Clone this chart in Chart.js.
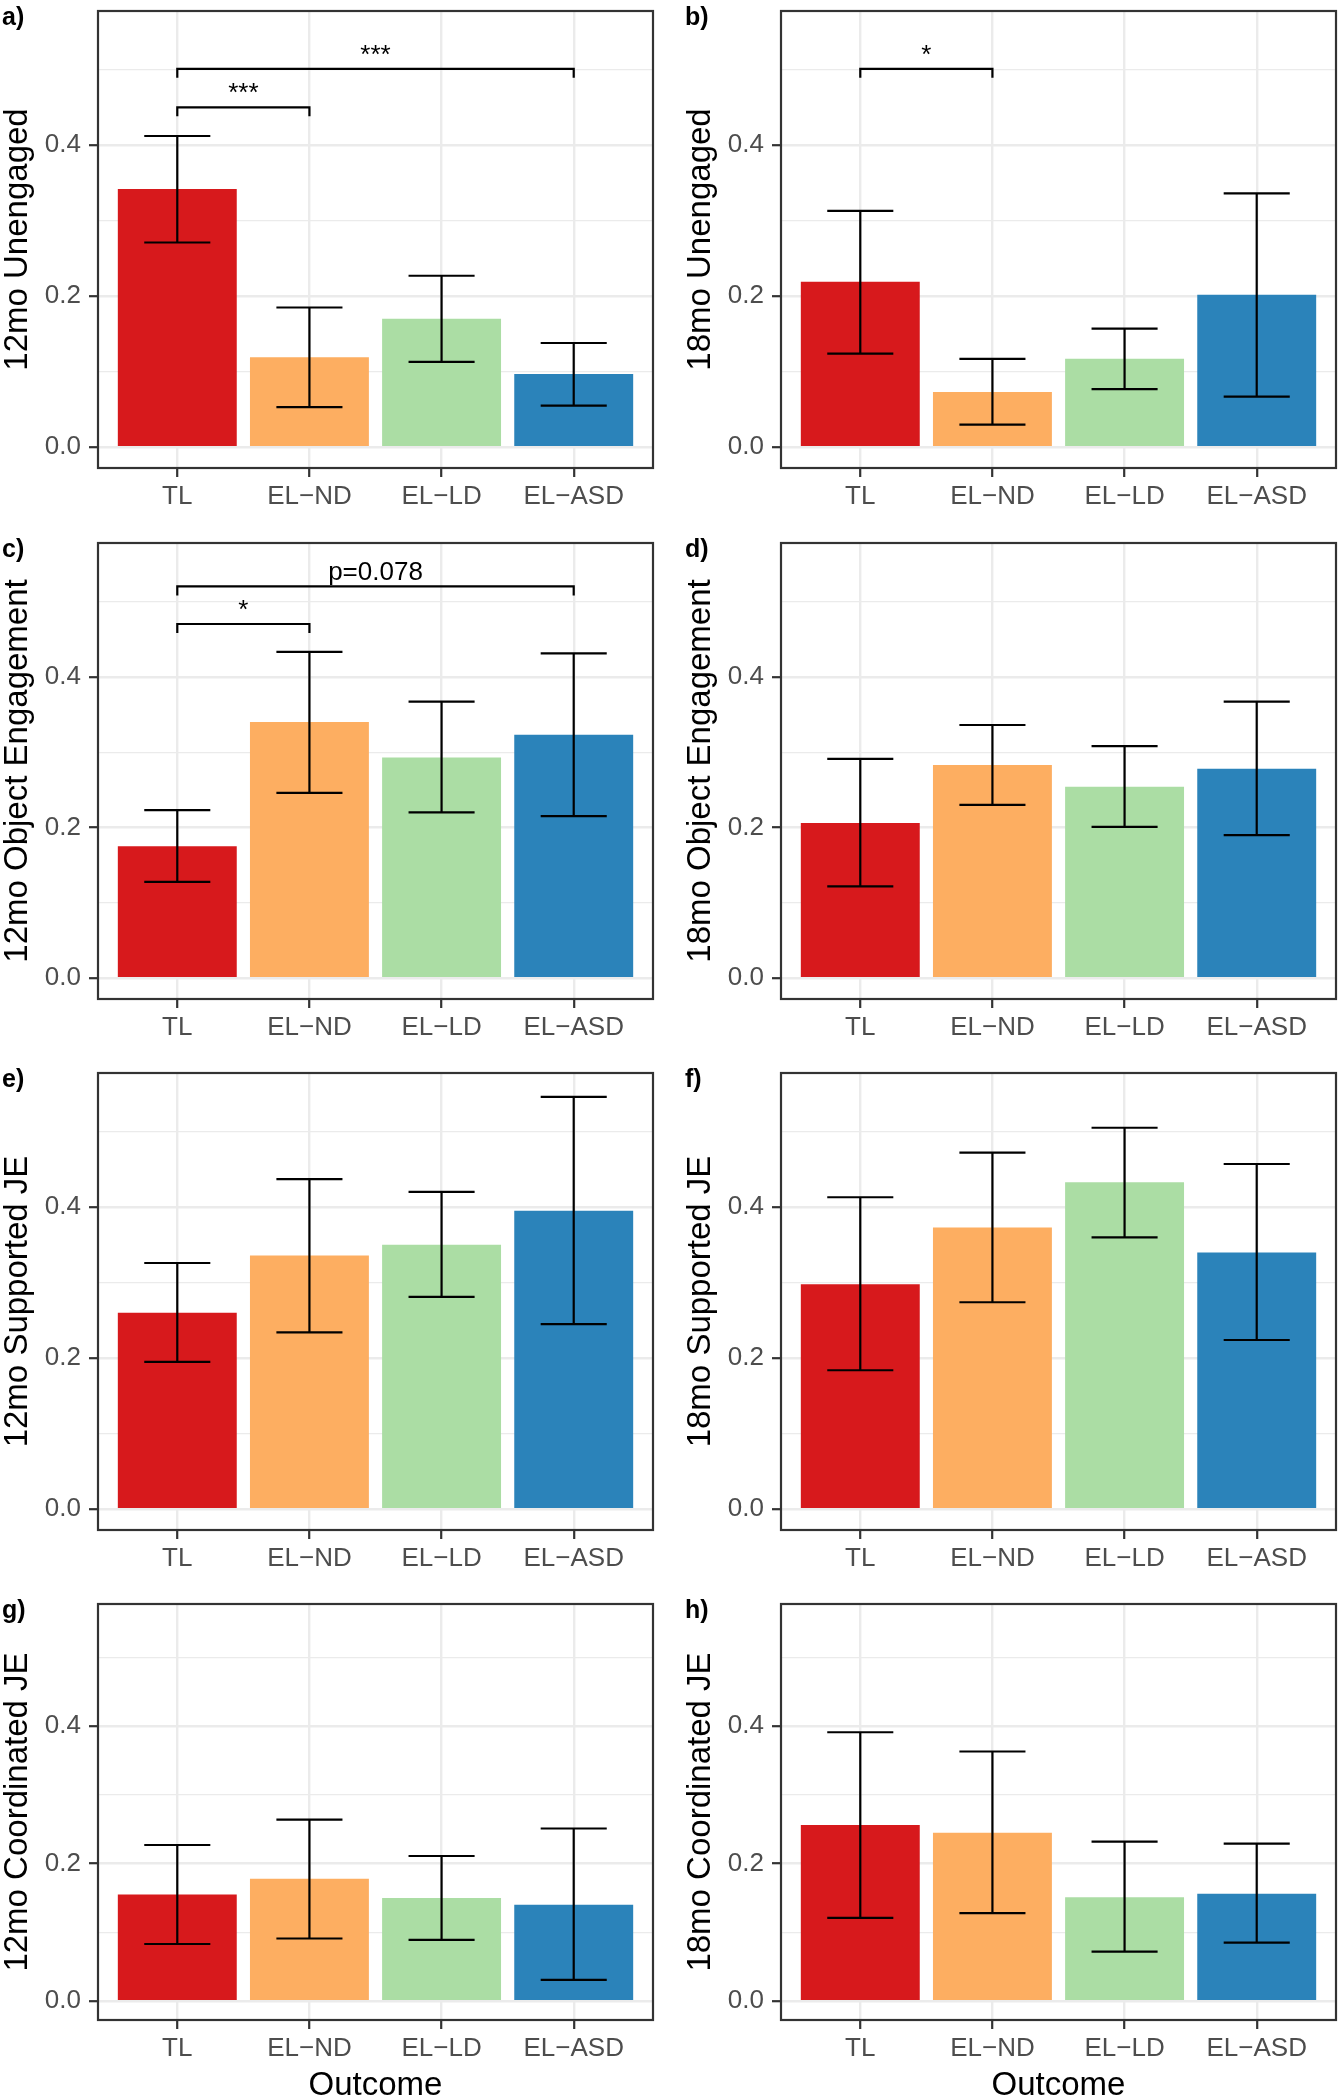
<!DOCTYPE html>
<html>
<head>
<meta charset="utf-8">
<title>Engagement by outcome group</title>
<script src="https://cdn.jsdelivr.net/npm/chart.js@4.4.1/dist/chart.umd.min.js"></script>
<style>
  html, body { margin: 0; padding: 0; background: #fff; }
  #page { position: relative; width: 1338px; height: 2100px; }
  #page canvas { position: absolute; }
</style>
</head>
<body>
<div id="page"></div>
<script>
// groups on the x axis, same for every panel
const groups      = ['TL', 'EL\u2212ND', 'EL\u2212LD', 'EL\u2212ASD'];
const groupColors = ['#d7191c', '#fdae61', '#abdda4', '#2b83ba'];

// shared y axis
const yTicks = [0, 0.1, 0.2, 0.3, 0.4, 0.5];
const yMin = -0.0275, yMax = 0.5775;

// a) 12mo Unengaged
const unengaged12Mean = [0.342, 0.119, 0.170, 0.097];
const unengaged12Lo   = [0.271, 0.053, 0.113, 0.055];
const unengaged12Hi   = [0.412, 0.185, 0.227, 0.138];
const unengaged12Sig  = [[0, 1, 0.450, '***'], [0, 3, 0.501, '***']];

// b) 18mo Unengaged
const unengaged18Mean = [0.219, 0.073, 0.117, 0.202];
const unengaged18Lo   = [0.124, 0.030, 0.077, 0.067];
const unengaged18Hi   = [0.313, 0.117, 0.157, 0.336];
const unengaged18Sig  = [[0, 1, 0.501, '*']];

// c) 12mo Object Engagement
const object12Mean = [0.175, 0.340, 0.293, 0.323];
const object12Lo   = [0.128, 0.246, 0.220, 0.215];
const object12Hi   = [0.223, 0.433, 0.367, 0.431];
const object12Sig  = [[0, 1, 0.470, '*'], [0, 3, 0.520, 'p=0.078']];

// d) 18mo Object Engagement
const object18Mean = [0.206, 0.283, 0.254, 0.278];
const object18Lo   = [0.122, 0.230, 0.201, 0.190];
const object18Hi   = [0.291, 0.336, 0.308, 0.367];

// e) 12mo Supported JE
const supported12Mean = [0.260, 0.336, 0.350, 0.395];
const supported12Lo   = [0.195, 0.234, 0.281, 0.245];
const supported12Hi   = [0.326, 0.437, 0.420, 0.546];

// f) 18mo Supported JE
const supported18Mean = [0.298, 0.373, 0.433, 0.340];
const supported18Lo   = [0.184, 0.274, 0.360, 0.224];
const supported18Hi   = [0.413, 0.472, 0.505, 0.457];

// g) 12mo Coordinated JE
const coordinated12Mean = [0.155, 0.178, 0.150, 0.140];
const coordinated12Lo   = [0.083, 0.091, 0.089, 0.031];
const coordinated12Hi   = [0.227, 0.264, 0.211, 0.251];

// h) 18mo Coordinated JE
const coordinated18Mean = [0.256, 0.245, 0.151, 0.156];
const coordinated18Lo   = [0.121, 0.128, 0.072, 0.085];
const coordinated18Hi   = [0.391, 0.363, 0.232, 0.229];

const panels = [
  { letter: 'a', title: '12mo Unengaged',          mean: unengaged12Mean,   lo: unengaged12Lo,   hi: unengaged12Hi,   sig: unengaged12Sig },
  { letter: 'b', title: '18mo Unengaged',          mean: unengaged18Mean,   lo: unengaged18Lo,   hi: unengaged18Hi,   sig: unengaged18Sig },
  { letter: 'c', title: '12mo Object Engagement',  mean: object12Mean,      lo: object12Lo,      hi: object12Hi,      sig: object12Sig },
  { letter: 'd', title: '18mo Object Engagement',  mean: object18Mean,      lo: object18Lo,      hi: object18Hi,      sig: [] },
  { letter: 'e', title: '12mo Supported JE',       mean: supported12Mean,   lo: supported12Lo,   hi: supported12Hi,   sig: [] },
  { letter: 'f', title: '18mo Supported JE',       mean: supported18Mean,   lo: supported18Lo,   hi: supported18Hi,   sig: [] },
  { letter: 'g', title: '12mo Coordinated JE',     mean: coordinated12Mean, lo: coordinated12Lo, hi: coordinated12Hi, sig: [] },
  { letter: 'h', title: '18mo Coordinated JE',     mean: coordinated18Mean, lo: coordinated18Lo, hi: coordinated18Hi, sig: [] },
];

// page grid: 2 columns x 4 rows (bottom row carries the x title)
const COLS = [{ left: 0, axisW: 98, padR: 16 }, { left: 669, axisW: 112, padR: 2 }];
const ROWS = [
  { top: 0,    h: 530, padT: 11, plotH: 457 },
  { top: 530,  h: 530, padT: 13, plotH: 456 },
  { top: 1060, h: 530, padT: 13, plotH: 457 },
  { top: 1590, h: 510, padT: 14, plotH: 416, xTitle: 'Outcome' },
];

const FONT = '"Liberation Sans", Arial, Helvetica, sans-serif';
Chart.defaults.font.family = FONT;

const isMajor = v => Math.round(v * 10) % 2 === 0;
const panelById = {};

// error bars, significance brackets, panel border, titles
const panelDecor = {
  id: 'panelDecor',
  afterDatasetsDraw(chart) {
    const p = panelById[chart.canvas.id];
    const { ctx, scales: { x, y } } = chart;
    ctx.save();
    ctx.strokeStyle = '#000';
    ctx.lineWidth = 2.2;
    p.mean.forEach((_, i) => {
      const cx = x.getPixelForValue(i), l = x.getPixelForValue(i - 0.25), r = x.getPixelForValue(i + 0.25);
      const yt = y.getPixelForValue(p.hi[i]), yb = y.getPixelForValue(p.lo[i]);
      ctx.beginPath();
      ctx.moveTo(cx, yt); ctx.lineTo(cx, yb);
      ctx.moveTo(l, yt);  ctx.lineTo(r, yt);
      ctx.moveTo(l, yb);  ctx.lineTo(r, yb);
      ctx.stroke();
    });
    ctx.restore();
  },
  afterDraw(chart) {
    const p = panelById[chart.canvas.id];
    const { ctx, chartArea: a, scales: { x, y } } = chart;
    ctx.save();

    // brackets
    ctx.strokeStyle = '#000';
    ctx.fillStyle = '#000';
    ctx.lineWidth = 2.2;
    ctx.font = '26px ' + FONT;
    ctx.textAlign = 'center';
    ctx.textBaseline = 'alphabetic';
    p.sig.forEach(([from, to, level, label]) => {
      const x1 = x.getPixelForValue(from), x2 = x.getPixelForValue(to);
      const yy = y.getPixelForValue(level), yd = y.getPixelForValue(level - 0.012);
      ctx.beginPath();
      ctx.moveTo(x1, yd); ctx.lineTo(x1, yy); ctx.lineTo(x2, yy); ctx.lineTo(x2, yd);
      ctx.stroke();
      ctx.fillText(label, (x1 + x2) / 2, yy - 6);
    });

    // panel border
    ctx.strokeStyle = '#333333';
    ctx.lineWidth = 2.2;
    ctx.strokeRect(a.left, a.top, a.right - a.left, a.bottom - a.top);

    // y title
    ctx.fillStyle = '#000';
    ctx.font = '33px ' + FONT;
    ctx.save();
    ctx.translate(a.left - 71, (a.top + a.bottom) / 2);
    ctx.rotate(-Math.PI / 2);
    ctx.textAlign = 'center';
    ctx.fillText(p.title, 0, 0);
    ctx.restore();

    // x title on the bottom row
    if (p.row.xTitle) {
      ctx.textAlign = 'center';
      ctx.fillText(p.row.xTitle, (a.left + a.right) / 2, a.bottom + 75);
    }

    // panel letter
    ctx.font = 'bold 25px ' + FONT;
    ctx.textAlign = 'left';
    ctx.fillText(p.letter + ')', a.left - 96, a.top + 14);
    ctx.restore();
  }
};

const page = document.getElementById('page');

panels.forEach((p, idx) => {
  const col = COLS[idx % 2], row = ROWS[Math.floor(idx / 2)];
  const canvas = document.createElement('canvas');
  canvas.id = 'panel-' + p.letter;
  canvas.width = 669;
  canvas.height = row.h;
  canvas.style.left = col.left + 'px';
  canvas.style.top = row.top + 'px';
  page.appendChild(canvas);
  panelById[canvas.id] = { ...p, row };

  new Chart(canvas.getContext('2d'), {
    type: 'bar',
    data: {
      datasets: [{
        data: p.mean.map((v, i) => ({ x: i, y: v })),
        backgroundColor: groupColors,
        barPercentage: 0.9,
        categoryPercentage: 1,
      }],
    },
    options: {
      responsive: false,
      animation: false,
      events: [],
      layout: { padding: { top: row.padT, right: col.padR, left: 0, bottom: 0 } },
      plugins: { legend: { display: false }, tooltip: { enabled: false } },
      scales: {
        x: {
          type: 'linear', min: -0.6, max: 3.6, offset: false,
          afterFit: s => { s.height = row.h - row.padT - row.plotH; s.paddingLeft = 0; s.paddingRight = 0; },
          afterBuildTicks: s => { s.ticks = groups.map((g, i) => ({ value: i })); },
          ticks: { callback: v => groups[v], autoSkip: false, maxRotation: 0, padding: 4, color: '#4d4d4d', font: { size: 26 } },
          grid: { offset: false, color: '#ebebeb', lineWidth: 2.4, tickLength: 9, tickColor: '#333333', tickWidth: 2.2 },
          border: { display: false },
        },
        y: {
          min: yMin, max: yMax,
          afterFit: s => { s.width = col.axisW; s.paddingTop = 0; s.paddingBottom = 0; },
          afterBuildTicks: s => { s.ticks = yTicks.map(v => ({ value: v })); },
          ticks: { callback: v => isMajor(v) ? v.toFixed(1) : '', padding: 8, color: '#4d4d4d', font: { size: 26 } },
          grid: {
            color: '#ebebeb',
            lineWidth: c => isMajor(c.tick.value) ? 2.4 : 1.2,
            tickLength: 9,
            tickColor: c => isMajor(c.tick.value) ? '#333333' : 'rgba(0,0,0,0)',
            tickWidth: 2.2,
          },
          border: { display: false },
        },
      },
    },
    plugins: [panelDecor],
  });
});
</script>
</body>
</html>
